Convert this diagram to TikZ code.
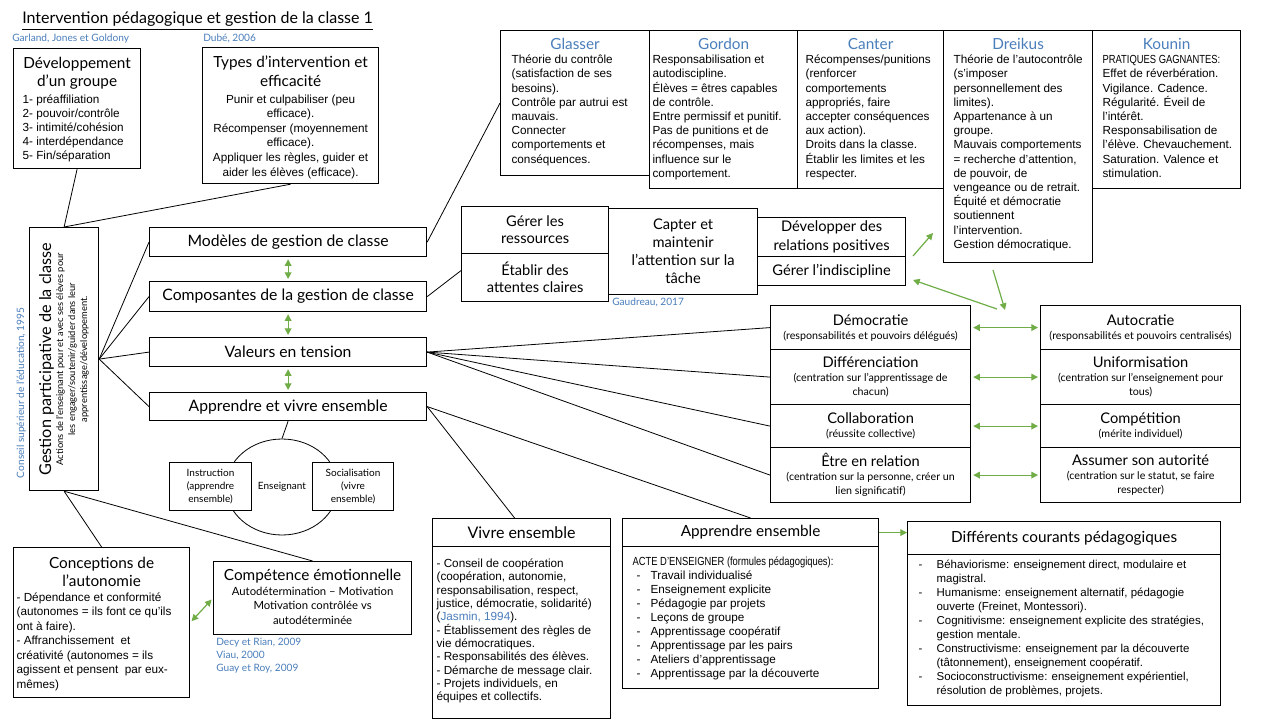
\documentclass[tikz,border=0pt]{standalone}
\usepackage{fontspec}
\usepackage{graphicx}
\setmainfont{Liberation Sans}
\newfontfamily\tw{Lato}
\usetikzlibrary{arrows.meta,calc,shapes.geometric}
\newdimen\px \px=0.75pt
\definecolor{citeblue}{RGB}{74,126,187}
\definecolor{arrowgreen}{RGB}{112,173,71}
\newcommand\twf[2]{\tw\fontsize{#1}{#2}\selectfont}
\newcommand\arf[2]{\rmfamily\fontsize{#1}{#2}\selectfont}
\newcommand\dashitem{\makebox[18\px][l]{-}}
\newcommand\contind{\hspace*{18\px}}
\tikzset{
  bx/.style={draw, line width=0.9pt, inner sep=0pt, anchor=north west, fill=white},
  conn/.style={line width=0.6pt},
  garrow/.style={draw=arrowgreen, line width=0.9pt, -{Triangle[length=5pt,width=5pt]}},
  gdouble/.style={draw=arrowgreen, line width=0.9pt, {Triangle[length=5pt,width=5pt]}-{Triangle[length=5pt,width=5pt]}, shorten <=1.5pt, shorten >=1.5pt},
  citetext/.style={text=citeblue, inner sep=0pt, anchor=base west, font=\twf{7.6}{9}},
}
\newcommand\topbx[7]{%
\node[bx] (#1) at (#2,30) {\parbox[c][#4\px][t]{#3\px}{\centering\twf{11.5}{13}\color{citeblue}\rule{0pt}{19\px}#6\par
\raggedright\leftskip=#5\px\color{black}\arf{8.8}{10.65}#7\par}};}
\newcommand\valbx[5]{%
\node[bx] (#1) at (#2,#3) {\parbox[c][#4\px][c]{200\px}{\centering#5\par}};}

\begin{document}
\begin{tikzpicture}[x=0.75pt,y=-0.75pt]
\useasboundingbox (0,0) rectangle (1280,720);
\fill[white] (0,0) rectangle (1280,720);

% title and citations
\node[anchor=base west, inner sep=0pt] (title) at (22,24) {\twf{12}{14}\underline{Intervention pédagogique et gestion de la classe 1}};
\node[citetext] (c1) at (12,42) {Garland, Jones et Goldony};
\node[citetext] (c2) at (203,42) {Dubé, 2006};
\node[citetext] (c3) at (612,305) {Gaudreau, 2017};
\node[citetext] (c4) at (216,645) {Decy et Rian, 2009};
\node[citetext] (c5) at (216,658) {Viau, 2000};
\node[citetext] (c6) at (216,671) {Guay et Roy, 2009};
\node[text=citeblue, inner sep=0pt, rotate=90, font=\twf{7.6}{9}] (c7) at (21,393) {Conseil supérieur de l’éducation, 1995};

% ellipse
\node[draw, ellipse, line width=0.6pt, minimum width=84pt, minimum height=72pt, inner sep=0pt] (ens) at (282,487) {\twf{7.5}{9}Enseignant};

% main left box
\node[bx] (gest) at (29,227) {\parbox[c][263\px][c]{69\px}{\centering\rotatebox{90}{\parbox{255\px}{\centering\twf{12.2}{13.5}Gestion participative de la classe\par\twf{7}{9}Actions de l’enseignant pour et avec ses élèves pour\\ les engager/soutenir/guider dans leur\\ apprentissage/développement.\par}}}};

% top-left boxes
\node[bx] (dev) at (13,48) {\parbox[c][120\px][t]{127\px}{\centering\twf{11.5}{13.5}\rule{0pt}{20\px}Développement\\ d’un groupe\par\vspace{3\px}\raggedright\leftskip=9\px\arf{8.8}{10.5}1- préaffiliation\\ 2- pouvoir/contrôle\\ 3- intimité/cohésion\\ 4- interdépendance\\ 5- Fin/séparation\par}};
\node[bx] (types) at (202,47) {\parbox[c][136\px][t]{176\px}{\centering\twf{11.5}{14.25}\rule{0pt}{20\px}Types d’intervention et\\ efficacité\par\vspace{2\px}\arf{8.8}{10.95}Punir et culpabiliser (peu\\ efficace).\\ Récompenser (moyennement\\ efficace).\\ Appliquer les règles, guider et\\ aider les élèves (efficace).\par}};

% top row of models
\topbx{gla}{500}{149}{145}{11}{Glasser}{Théorie du contrôle\\ (satisfaction de ses\\ besoins).\\ Contrôle par autrui est\\ mauvais.\\ Connecter\\ comportements et\\ conséquences.}
\topbx{gor}{649}{148}{158}{3}{Gordon}{Responsabilisation et\\ autodiscipline.\\ Élèves = êtres capables\\ de contrôle.\\ Entre permissif et punitif.\\ Pas de punitions et de\\ récompenses, mais\\ influence sur le\\ comportement.}
\topbx{can}{797}{146}{158}{8}{Canter}{Récompenses/punitions\\ (renforcer\\ comportements\\ appropriés, faire\\ accepter conséquences\\ aux action).\\ Droits dans la classe.\\ Établir les limites et les\\ respecter.}
\topbx{dre}{943}{149}{232}{10}{Dreikus}{Théorie de l’autocontrôle\\ (s’imposer\\ personnellement des\\ limites).\\ Appartenance à un\\ groupe.\\ Mauvais comportements\\ = recherche d’attention,\\ de pouvoir, de\\ vengeance ou de retrait.\\ Équité et démocratie\\ soutiennent\\ l’intervention.\\ Gestion démocratique.}
\topbx{kou}{1092}{148}{158}{10}{Kounin}{\scalebox{0.8}[1]{PRATIQUES GAGNANTES:}\\ Effet de réverbération.\\ Vigilance. Cadence.\\ Régularité. Éveil de\\ l’intérêt.\\ Responsabilisation de\\ l’élève. Chevauchement.\\ Saturation. Valence et\\ stimulation.}

% central boxes
\node[bx] (mod) at (149,227) {\parbox[c][29\px][c]{277\px}{\centering\twf{11.8}{13}Modèles de gestion de classe}};
\node[bx] (comp) at (149,281) {\parbox[c][30\px][c]{277\px}{\centering\twf{11.8}{13}Composantes de la gestion de classe}};
\node[bx] (val) at (149,337) {\parbox[c][29\px][c]{277\px}{\centering\twf{11.8}{13}Valeurs en tension}};
\node[bx] (ave) at (149,392) {\parbox[c][28\px][c]{277\px}{\centering\twf{11.8}{13}Apprendre et vivre ensemble}};

% composantes
\node[bx] (res) at (461,206) {\parbox[c][47\px][c]{147\px}{\centering\twf{11}{12.75}Gérer les\\ ressources}};
\node[bx] (eta) at (461,253) {\parbox[c][48\px][c]{147\px}{\centering\twf{11}{12.75}Établir des\\ attentes claires}};
\node[bx] (cap) at (608,208) {\parbox[c][86\px][c]{149\px}{\centering\twf{11}{13.5}Capter et\\ maintenir\\ l’attention sur la\\ tâche}};
\node[bx] (dev2) at (757,217) {\parbox[c][39\px][c]{148\px}{\centering\twf{11}{14}Développer des\\ relations positives}};
\node[bx] (ind) at (757,256) {\parbox[c][29\px][c]{148\px}{\centering\twf{11}{13}Gérer l’indiscipline}};

% values
\valbx{dem}{770}{305}{44}{{\twf{11}{12}Démocratie\par}{\twf{8}{10.5}(responsabilités et pouvoirs délégués)\par}}
\valbx{dif}{770}{349}{55}{{\twf{11}{12}Différenciation\par}{\twf{8}{10.5}(centration sur l’apprentissage de\\ chacun)\par}}
\valbx{col}{770}{404}{43}{{\twf{11}{12}Collaboration\par}{\twf{8}{10.5}(réussite collective)\par}}
\valbx{etr}{770}{447}{55}{{\twf{11}{12}Être en relation\par}{\twf{8}{10.5}(centration sur la personne, créer un\\ lien significatif)\par}}
\valbx{aut}{1040}{305}{44}{{\twf{11}{12}Autocratie\par}{\twf{8}{10.5}(responsabilités et pouvoirs centralisés)\par}}
\valbx{uni}{1040}{349}{55}{{\twf{11}{12}Uniformisation\par}{\twf{8}{10.5}(centration sur l’enseignement pour\\ tous)\par}}
\valbx{com}{1040}{404}{43}{{\twf{11}{12}Compétition\par}{\twf{8}{10.5}(mérite individuel)\par}}
\valbx{ass}{1040}{447}{55}{{\twf{11}{12}Assumer son autorité\par}{\twf{8}{10.5}(centration sur le statut, se faire\\ respecter)\par}}

% instruction / socialisation
\node[bx, line width=0.8pt] (ins) at (169,462) {\parbox[c][48\px][c]{82\px}{\centering\twf{7.5}{10}Instruction\\ (apprendre\\ ensemble)}};
\node[bx, line width=0.8pt] (soc) at (312,462) {\parbox[c][48\px][c]{81\px}{\centering\twf{7.5}{10}Socialisation\\ (vivre\\ ensemble)}};

% bottom-left
\node[bx] (con) at (13,547) {\parbox[c][150\px][t]{176\px}{\centering\twf{11.5}{13.5}\rule{0pt}{21\px}Conceptions de\\ l’autonomie\par\raggedright\leftskip=3\px\arf{8.8}{10.9}- Dépendance et conformité\\ (autonomes = ils font ce qu’ils\\ ont à faire).\\ - Affranchissement\ \ et\\ créativité (autonomes = ils\\ agissent et pensent\ \ par eux-\\ mêmes)\par}};
\node[bx] (cem) at (213,561) {\parbox[c][73\px][t]{198\px}{\centering\twf{11.5}{13}\rule{0pt}{19\px}Compétence émotionnelle\par\twf{8.5}{11}Autodétermination – Motivation\\ Motivation contrôlée vs\\ autodéterminée\par}};

% bottom boxes
\node[bx] (veh) at (432,518) {\parbox[c][28\px][c]{178\px}{\centering\twf{12}{13}Vivre ensemble}};
\node[bx] (veb) at (432,546) {\parbox[c][172\px][t]{178\px}{\raggedright\leftskip=4\px\arf{8.8}{10}\rule{0pt}{21\px}- Conseil de coopération\\ (coopération, autonomie,\\ responsabilisation, respect,\\ justice, démocratie, solidarité)\\ ({\color{citeblue}Jasmin, 1994}).\\ - Établissement des règles de\\ vie démocratiques.\\ - Responsabilités des élèves.\\ - Démarche de message clair.\\ - Projets individuels, en\\ équipes et collectifs.\par}};
\node[bx] (aeh) at (622,518) {\parbox[c][28\px][c]{256\px}{\centering\twf{11.5}{13}Apprendre ensemble}};
\node[bx] (aeb) at (622,546) {\parbox[c][142\px][t]{256\px}{\raggedright\leftskip=10\px\arf{8.8}{10.5}\rule{0pt}{19\px}\scalebox{0.8}[1]{ACTE D’ENSEIGNER (formules pédagogiques):}\\ \hspace*{4\px}\makebox[14\px][l]{-}Travail individualisé\\ \hspace*{4\px}\makebox[14\px][l]{-}Enseignement\ explicite\\ \hspace*{4\px}\makebox[14\px][l]{-}Pédagogie par projets\\ \hspace*{4\px}\makebox[14\px][l]{-}Leçons de groupe\\ \hspace*{4\px}\makebox[14\px][l]{-}Apprentissage coopératif\\ \hspace*{4\px}\makebox[14\px][l]{-}Apprentissage par les pairs\\ \hspace*{4\px}\makebox[14\px][l]{-}Ateliers d’apprentissage\\ \hspace*{4\px}\makebox[14\px][l]{-}Apprentissage par la découverte\par}};
\node[bx] (dch) at (907,521) {\parbox[c][33\px][c]{313\px}{\centering\twf{11.5}{13}Différents courants pédagogiques}};
\node[bx] (dcb) at (907,554) {\parbox[c][151\px][t]{313\px}{\raggedright\leftskip=11\px\arf{8.6}{10.5}\rule{0pt}{14\px}\dashitem Béhaviorisme: enseignement\ direct, modulaire et\\ \contind magistral.\\ \dashitem Humanisme: enseignement\ alternatif, pédagogie\\ \contind ouverte (Freinet, Montessori).\\ \dashitem Cognitivisme: enseignement\ explicite des stratégies,\\ \contind gestion mentale.\\ \dashitem Constructivisme: enseignement\ par la découverte\\ \contind (tâtonnement), enseignement\ coopératif.\\ \dashitem Socioconstructivisme: enseignement\ expérientiel,\\ \contind résolution de problèmes, projets.\par}};

% black connectors
\draw[conn] (gest.north) -- (dev.south);
\draw[conn] (gest.north) -- (types.south);
\foreach \t in {mod,comp,val,ave} \draw[conn] (gest.east) -- (\t.west);
\draw[conn] (gest.south) -- (con.north);
\draw[conn] (gest.south) -- (cem.north);
\draw[conn] (mod.east) -- (gla.west);
\draw[conn] (comp.east) -- ($(eta.west)+(0,-7)$);
\foreach \t in {dem,dif,col,etr} \draw[conn] (val.east) -- (\t.west);
\draw[conn] (ave.east) -- ($(veh.north)+(-7,0)$);
\draw[conn] (ave.east) -- (aeh.north);
\draw[conn] (ave.south) -- (ens.north);

% green arrows
\draw[gdouble] (mod.south) -- (comp.north);
\draw[gdouble] (comp.south) -- (val.north);
\draw[gdouble] (val.south) -- (ave.north);
\draw[gdouble] (dem.east) -- (aut.west);
\draw[gdouble] (dif.east) -- (uni.west);
\draw[gdouble] (col.east) -- (com.west);
\draw[gdouble] (etr.east) -- (ass.west);
\draw[gdouble] (con.east) -- (cem.west);
\draw[garrow] (aeh.east) -- (aeh.east -| dch.west);
\coordinate (g1s) at (913,256);
\coordinate (g1e) at (933,233);
\coordinate (g2s) at (993,270);
\coordinate (g2e) at (1005,310);
\coordinate (g3s) at (997,309);
\coordinate (g3e) at (913,280);
\draw[garrow] (g1s) -- (g1e);
\draw[garrow] (g2s) -- (g2e);
\draw[garrow] (g3s) -- (g3e);
\end{tikzpicture}
\end{document}
